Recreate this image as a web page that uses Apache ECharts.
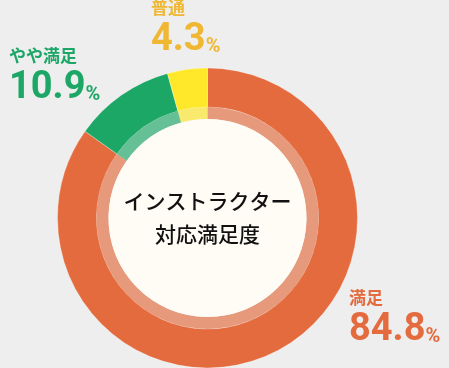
<!DOCTYPE html>
<html><head><meta charset="utf-8">
<script src="https://cdn.jsdelivr.net/npm/echarts@6/dist/echarts.min.js"></script>
<style>html,body{margin:0;padding:0;background:#eeeeee;}#c{width:449px;height:368px;}</style>
</head><body><div id="c"></div>
<script>
const categories = ['満足', 'やや満足', '普通'];
const values = [84.8, 10.9, 4.3];
const colors = ['#E46B3E', '#1DA767', '#FFE82A'];
const labelColors = ['#E46B3E', '#1DA767', '#EFB732'];
const centerTitle = ['インストラクター', '対応満足度'];

const CX = 207.5, CY = 218;
const labelPos = [[349, 289], [9, 47], [151, -1]];

const chart = echarts.init(document.getElementById('c'), null, {renderer: 'canvas'});
const data = categories.map((n, i) => ({name: n, value: values[i], itemStyle: {color: colors[i]}}));
const jp = '"Noto Sans CJK JP", sans-serif';
const graphics = categories.map((n, i) => ({
  type: 'text', left: labelPos[i][0], top: labelPos[i][1], z: 10,
  style: {
    text: '{a|' + n + '}\n{b|' + values[i].toFixed(1) + '}{c|%}',
    rich: {
      a: {fontFamily: jp, fontSize: 17, fontWeight: 'bold', fill: labelColors[i], lineHeight: 24},
      b: {fontFamily: 'Roboto, sans-serif', fontSize: 38, fontWeight: 'bold', fill: labelColors[i], lineHeight: 42},
      c: {fontFamily: 'Roboto, sans-serif', fontSize: 20, fontWeight: 'bold', fill: labelColors[i], lineHeight: 42, verticalAlign: 'bottom', padding: [0,0,4,0]}
    }
  }
}));
chart.setOption({
  backgroundColor: '#eeeeee',
  animation: false,
  graphic: graphics,
  series: [
    {type: 'pie', center: [CX, CY], radius: [111, 150], startAngle: 90, clockwise: true, silent: true,
     label: {show: false}, labelLine: {show: false},
     itemStyle: {borderColor: 'rgba(255,255,255,0.6)', borderWidth: 0.5}, data: data},
    {type: 'pie', center: [CX, CY], radius: [99, 111], startAngle: 90, clockwise: true, silent: true,
     label: {show: false}, labelLine: {show: false},
     itemStyle: {borderWidth: 0, opacity: 0.65}, data: data},
    {type: 'pie', center: [CX, CY], radius: [0, 99], silent: true, label: {show: true, position: 'center',
      formatter: centerTitle.join('\n'), fontFamily: jp, fontSize: 21, fontWeight: 500, lineHeight: 33, color: '#111'},
     labelLine: {show: false}, itemStyle: {color: '#FFFCF5'}, data: [{value: 1, name: 'c'}]}
  ]
});
</script></body></html>
